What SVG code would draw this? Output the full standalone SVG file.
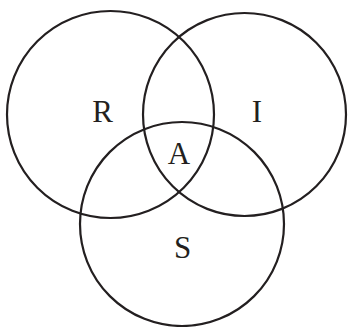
<svg xmlns="http://www.w3.org/2000/svg" width="348" height="327" viewBox="0 0 348 327">
<style>
.c{fill:none;stroke:#231f20;stroke-width:2.2}
.t{font-family:"Liberation Serif","DejaVu Serif",serif;font-size:31px;fill:#231f20;text-anchor:middle}
</style>
<rect width="348" height="327" fill="#fff"/>
<g id="R"><circle class="c" cx="110.5" cy="114.5" r="103.5"/><text class="t" x="102.5" y="122">R</text></g>
<g id="I"><circle class="c" cx="244.5" cy="114.5" r="101.5"/><text class="t" x="257" y="122">I</text></g>
<g id="S"><circle class="c" cx="182" cy="224" r="102"/><text class="t" x="182.5" y="258">S</text></g>
<g id="A"><text class="t" x="179" y="163.5">A</text></g>
</svg>
